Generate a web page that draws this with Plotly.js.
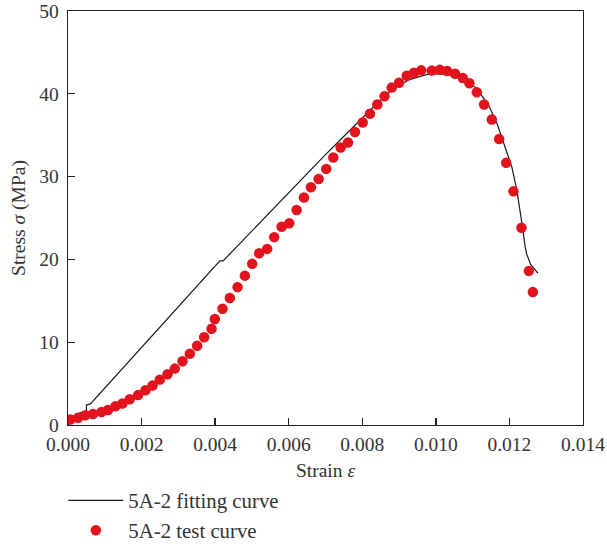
<!DOCTYPE html>
<html>
<head>
<meta charset="utf-8">
<script src="https://cdn.plot.ly/plotly-3.0.1.min.js"></script>
<style>html,body{margin:0;padding:0;background:#fff;}#chart{width:607px;height:544px;}</style>
</head>
<body>
<div id="chart"></div>
<script>
// Test curve (red dots)
const testStrain = [0.000065,0.000272,0.000473,0.000680,0.000909,0.001088,0.001290,0.001480,0.001679,0.001905,
  0.002106,0.002297,0.002495,0.002705,0.002903,0.003113,0.003312,0.003510,0.003701,0.003902,
  0.003992,0.004201,0.004400,0.004610,0.004808,0.005007,0.005197,0.005415,0.005605,0.005807,
  0.006014,0.006215,0.006414,0.006604,0.006814,0.007020,0.007211,0.007412,0.007611,0.007801,
  0.008011,0.008209,0.008408,0.008604,0.008800,0.008999,0.009208,0.009407,0.009603,0.009889,
  0.010106,0.010305,0.010522,0.010732,0.010912,0.011113,0.011312,0.011521,0.011720,0.011910,
  0.012109,0.012327,0.012528,0.012637];
const testStress = [0.66,0.87,1.17,1.33,1.57,1.81,2.27,2.59,3.11,3.61,
  4.19,4.76,5.48,6.12,6.81,7.69,8.61,9.58,10.60,11.63,
  12.81,14.04,15.33,16.65,18.04,19.46,20.75,21.27,22.69,23.95,
  24.36,25.96,27.47,28.71,29.72,30.93,32.31,33.52,34.12,35.39,
  36.54,37.59,38.70,39.70,40.75,41.33,42.17,42.55,42.83,42.80,
  42.89,42.75,42.43,41.90,41.27,40.18,38.70,36.89,34.55,31.66,
  28.22,23.83,18.61,16.05];

// Fitting curve (black line)
const fitStrain = [0,0.000318,0.000501,0.000501,0.000610,0.004082,0.004128,0.004218,0.005850,0.006033,
  0.006939,0.007665,0.008392,0.008844,0.009298,0.009842,0.010297,0.010748,0.011113,0.011420,
  0.011657,0.011910,0.012065,0.012201,0.012291,0.012354,0.012427,0.012468,0.012577,0.012713,0.012773];
const fitStress = [0,1.47,1.57,2.41,2.55,19.54,19.82,19.82,27.37,28.17,
  32.39,35.60,38.82,40.63,41.75,42.43,42.35,41.83,40.63,38.73,
  36.51,33.19,31.18,28.37,25.96,23.95,21.54,20.66,19.40,18.61,18.34];

const xTickVals = [0,0.002,0.004,0.006,0.008,0.010,0.012,0.014];
const yTickVals = [0,10,20,30,40,50];

const FONT = 'Liberation Serif, Times New Roman, serif';

const traces = [
  {x: fitStrain, y: fitStress, mode: 'lines', name: '5A-2 fitting curve',
   line: {color: '#1a1a1a', width: 1.2}},
  {x: testStrain, y: testStress, mode: 'markers', name: '5A-2 test curve',
   marker: {color: '#e3131e', size: 10.5}}
];

const axisCommon = {
  showgrid: false, zeroline: false, showline: true, linecolor: '#222', linewidth: 1.3,
  mirror: true, ticks: 'inside', ticklen: 7, tickwidth: 1.3, tickcolor: '#222',
  tickfont: {family: FONT, size: 19.5, color: '#333'}
};

const layout = {
  width: 607, height: 544,
  margin: {l: 68.3, r: 24, t: 10.7, b: 118.5, autoexpand: false},
  paper_bgcolor: '#fff', plot_bgcolor: '#fff',
  font: {family: FONT, color: '#333'},
  showlegend: true,
  legend: {x: -0.009, y: -0.1335, xanchor: 'left', yanchor: 'top', orientation: 'v',
           font: {family: FONT, size: 20.8, color: '#333'}, itemwidth: 55, tracegroupgap: 0,
           bgcolor: 'rgba(0,0,0,0)'},
  xaxis: Object.assign({}, axisCommon, {
    range: [0, 0.014], tickvals: xTickVals, tickformat: '.3f', ticklabelstandoff: 1,
    title: {text: 'Strain <i>ε</i>', font: {family: FONT, size: 19.5, color: '#333'}, standoff: 9}
  }),
  yaxis: Object.assign({}, axisCommon, {
    range: [0, 50], tickvals: yTickVals, ticklabelstandoff: 4,
    title: {text: 'Stress <i>σ</i> (MPa)', font: {family: FONT, size: 19.5, color: '#333'}, standoff: 8}
  })
};

Plotly.newPlot('chart', traces, layout, {displayModeBar: false, staticPlot: true});
</script>
</body>
</html>
